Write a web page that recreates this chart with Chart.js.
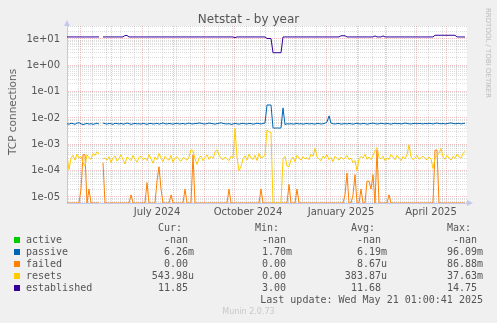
<!DOCTYPE html>
<html lang="en">
<head>
  <meta charset="UTF-8" />
  <title>Netstat - by year</title>
  <script src="https://cdn.jsdelivr.net/npm/chart.js"></script>
  <style>
    body { margin: 0; background: #f0f0f0; }
    #wrap { position: relative; width: 497px; height: 323px; overflow: hidden; font-family: "DejaVu Sans", sans-serif; color: #555; }
    #wrap canvas { position: absolute; left: 0; top: 0; }
    .title { position: absolute; left: 0; top: 12px; width: 497px; text-align: center; font-size: 12px; line-height: 14px; }
    .ytitle { position: absolute; left: 12px; top: 112px; transform: translate(-50%, -50%) rotate(-90deg); font-size: 10.5px; color: #606060; white-space: nowrap; }
    .side { position: absolute; left: 488px; top: 53px; transform: translate(-50%, -50%) rotate(90deg); font-size: 7px; color: #bbb; white-space: nowrap; }
    .munin { position: absolute; left: 0; top: 307px; width: 497px; text-align: center; font-size: 8px; line-height: 10px; color: #c8c8c8; }
    #legend div { position: absolute; font-family: "DejaVu Sans Mono", monospace; font-size: 10px; line-height: 12px; white-space: pre; }
    #legend .sw { width: 6px; height: 6px; }
  </style>
</head>
<body>
  <div id="wrap">
    <canvas id="netstatChart" width="497" height="323"></canvas>
    <div class="title">Netstat - by year</div>
    <div class="ytitle">TCP connections</div>
    <div class="side">RRDTOOL / TOBI OETIKER</div>
    <div class="munin">Munin 2.0.73</div>
    <div id="legend"></div>
  </div>

  <script>
    // one point every 2 days, day 0 = left edge of the graph
    const STEP = 2;

    const established = [
      11.9,11.9,11.9,11.9,11.9,11.9,11.9,11.9,11.9,11.9, 11.9,11.9,11.9,11.9,11.9,11.9,11.9,null,11.9,11.9,
      11.9,11.9,11.9,11.9,11.9,11.9,11.9,11.9,11.9,13.5, 13.5,11.9,11.9,11.9,11.9,11.9,11.9,11.9,11.9,11.9,
      11.9,11.9,11.9,11.9,11.9,11.9,11.9,11.9,11.9,11.9, 11.9,11.9,11.9,11.9,11.9,11.9,11.9,11.9,11.9,11.9,
      11.9,11.9,11.9,11.9,11.9,11.9,11.9,11.9,11.9,11.9, 11.9,11.9,11.9,11.9,11.9,11.9,11.9,11.9,11.9,11.9,
      11.9,11.9,11.9,11.9,11.2,11.9,11.9,11.9,11.9,11.9, 11.9,11.9,11.9,11.9,11.9,11.9,11.9,11.9,11.9,11.9,
      10.4,10.4,10.4,3.0,3.0,3.0,3.0,3.0,11.9,11.9, 11.9,11.9,11.9,11.9,11.9,11.9,11.9,11.9,11.9,11.9,
      11.9,11.9,11.9,11.9,11.9,11.9,11.9,11.9,11.9,11.9, 11.9,11.9,11.9,11.9,11.9,11.9,11.9,13.2,13.2,13.2,
      11.9,11.9,11.9,11.9,11.9,11.9,11.9,11.9,11.9,11.9, 11.9,11.9,11.9,11.9,13.0,11.9,11.9,11.9,13.0,11.9,
      11.9,11.9,11.9,11.9,11.9,11.9,11.9,11.9,11.9,11.9, 11.9,11.9,11.9,11.9,11.9,11.9,11.9,11.9,11.9,11.9,
      11.9,11.9,11.9,11.9,13.8,13.8,13.8,13.8,13.8,13.8, 13.8,13.8,13.8,13.8,13.8,11.9,11.9,11.9,11.85,11.85
    ];

    // passive, in milli
    const passiveMilli = [
      6.0,5.8,6.3,6.1,5.7,6.4,6.6,6.0,5.6,5.9, 6.2,5.8,6.1,5.7,6.0,6.3,5.9,null,6.4,6.1,
      5.8,6.2,6.0,5.7,6.3,6.1,5.9,6.2,5.8,6.0, 6.4,6.1,5.7,6.0,6.2,5.9,6.1,5.8,6.3,6.0,
      5.7,6.1,6.2,5.9,6.0,6.3,5.8,6.1,6.5,6.0, 5.9,6.2,6.0,5.8,6.1,6.3,5.9,6.0,6.2,5.8,
      6.1,6.4,6.0,5.9,6.2,6.1,6.5,6.3,6.0,5.9, 6.1,6.4,6.2,6.0,5.8,6.1,6.3,6.6,6.2,6.0,
      5.9,6.1,5.7,5.9,6.2,6.0,5.8,6.1,6.3,6.0, 5.9,6.2,6.1,5.8,6.0,6.3,6.1,5.9,6.2,6.4,
      31,31,31,4.2,4.1,4.2,4.1,4.2,24,5.6, 6.0,5.9,6.1,5.8,6.0,6.2,5.9,6.1,5.8,6.0,
      6.2,5.9,6.1,6.0,5.8,6.2,6.1,5.9,6.0,6.3, 7.0,12,6.4,6.0,5.9,6.1,6.2,5.8,6.0,6.1,
      5.9,6.2,6.0,5.8,6.1,6.3,6.0,5.9,6.2,6.1, 5.8,6.0,6.2,6.4,6.1,5.9,6.0,6.3,6.1,5.9,
      6.2,6.0,5.8,6.1,6.3,6.0,6.2,5.9,6.1,6.4, 6.2,6.0,5.9,6.1,6.3,6.0,6.2,6.1,5.9,6.2,
      6.0,6.3,6.1,5.9,6.2,6.4,6.1,6.0,6.2,5.9, 6.1,6.3,6.5,6.2,6.0,6.1,6.3,5.9,6.2,6.26
    ];

    // resets, in micro
    const resetsMicro = [
      350,110,300,380,250,420,300,340,200,150, 400,310,270,450,380,520,430,null,280,300,
      250,340,200,310,360,230,290,400,260,180, 330,290,240,380,270,210,320,350,260,300,
      240,410,280,190,330,260,450,300,220,350, 280,250,380,210,300,340,260,230,310,290,
      250,330,620,560,280,170,300,360,240,310, 400,270,350,290,500,620,380,300,260,330,
      280,240,350,300,4000,320,100,140,280,360, 250,420,300,270,380,240,450,300,330,380,
      3500,3000,2800,0,0,0,0,0,280,350, 150,140,260,330,220,380,300,250,340,280,
      310,260,420,350,700,330,280,240,360,300, 400,260,310,220,350,290,250,330,270,300,
      380,260,300,200,240,100,280,350,300,420, 270,330,260,380,560,750,310,280,350,240,
      300,270,410,330,260,380,300,240,350,280, 400,950,330,260,300,380,270,310,350,290,
      260,330,280,120,300,380,450,700,330,270, 380,300,250,350,290,420,330,300,450,544
    ];

    // failed, in micro
    const failedMicro = [
      0,0,0,0,0,0,0,20,400,400, 0,20,0,0,0,0,0,null,200,0,
      0,0,0,0,0,0,0,0,0,0, 0,0,12,0,0,0,0,0,0,0,
      35,0,0,0,0,40,140,20,0,0, 0,0,12,0,0,0,0,0,0,20,
      0,0,0,400,0,0,0,0,0,0, 0,0,0,0,0,0,0,0,0,0,
      0,20,0,0,0,0,0,0,0,0, 0,0,0,0,0,0,0,20,0,0,
      0,0,0,0,0,0,0,0,0,0, 0,30,0,0,0,20,0,0,0,0,
      0,0,0,0,0,0,0,0,0,0, 0,0,0,0,0,0,0,0,0,12,
      80,0,0,12,70,0,0,20,0,0, 40,40,20,70,0,600,0,0,0,0,
      0,12,0,0,0,0,0,0,0,0, 0,0,0,0,0,0,0,0,0,0,
      0,0,0,0,600,600,0,0,0,0, 0,0,0,0,0,0,0,0,0,0
    ];

    // axes
    const Y_MIN = 5.9e-6, Y_MAX = 31;
    const yMajor = [1e-5, 1e-4, 1e-3, 1e-2, 1e-1, 1, 10];
    const yTickLabels = ['1e-05', '1e-04', '1e-03', '1e-02', '1e-01', '1e+00', '1e+01'];
    const yMinorSteps = [2, 3, 4, 5, 6, 7, 8, 9];
    const yBelowFloor = [6e-6, 7e-6, 8e-6, 9e-6];
    const monthStarts = [13, 44, 75, 106, 137, 167, 198, 228, 259, 290, 318, 349, 379];
    const minorDays = [11, 25, 39, 53, 67, 81, 95, 109, 123, 151, 165, 179, 193, 207, 221, 235, 249, 263, 277, 291, 305, 319, 333, 347, 361, 375, 389];
    const labelDays = [90, 181, 274, 364];
    const monthLabels = ['July 2024', 'October 2024', 'January 2025', 'April 2025'];

    // legend table
    const legendNames = ['active', 'passive', 'failed', 'resets', 'established'];
    const legendColors = ['#00cc00', '#0066b3', '#ff8000', '#ffcc00', '#330099'];
    const curVals = ['-nan ', '6.26m', '0.00 ', '543.98u', '11.85 '];
    const minVals = ['-nan ', '1.70m', '0.00 ', '0.00 ', '3.00 '];
    const avgVals = ['-nan ', '6.19m', '8.67u', '383.87u', '11.68 '];
    const maxVals = ['-nan ', '96.09m', '86.88m', '37.63m', '14.75 '];
    const lastUpdate = 'Last update: Wed May 21 01:00:41 2025';

    const MAJOR_GRID = 'rgba(230, 120, 120, 0.45)';
    const MINOR_GRID = 'rgba(150, 150, 150, 0.32)';
    const AXIS = '#c4c8ee';

    const sameVal = (a, b) => Math.abs(Math.log10(a) - Math.log10(b)) < 1e-6;

    const yGrid = [...yBelowFloor];
    yMajor.forEach(m => {
      yGrid.push(m);
      yMinorSteps.forEach(s => yGrid.push(m * s));
    });
    const yTicks = yGrid.filter(v => v >= Y_MIN && v <= Y_MAX).sort((a, b) => a - b);

    const xTicks = [...monthStarts, ...minorDays, ...labelDays].sort((a, b) => a - b);

    function points(vals, unit) {
      // zero can't sit on a log axis, so it is drawn on the floor like rrdtool does
      return vals.map((v, i) => ({ x: i * STEP, y: v === null ? null : Math.max(v * unit, Y_MIN) }));
    }

    const plotBg = {
      id: 'plotBg',
      beforeDraw(chart) {
        const a = chart.chartArea, c = chart.ctx;
        c.save();
        c.fillStyle = '#ffffff';
        c.fillRect(a.left, a.top, a.right - a.left, a.bottom - a.top);
        c.restore();
      },
      afterDraw(chart) {
        // axis arrows
        const a = chart.chartArea, c = chart.ctx;
        c.save();
        c.fillStyle = AXIS;
        c.beginPath();
        c.moveTo(a.left - 3, a.top); c.lineTo(a.left + 3, a.top); c.lineTo(a.left, a.top - 6);
        c.fill();
        c.beginPath();
        c.moveTo(a.right, a.bottom - 3); c.lineTo(a.right, a.bottom + 3); c.lineTo(a.right + 6, a.bottom);
        c.fill();
        c.restore();
      }
    };

    new Chart(document.getElementById('netstatChart'), {
      type: 'line',
      data: {
        datasets: [
          { label: 'established', data: points(established, 1), borderColor: '#330099' },
          { label: 'resets', data: points(resetsMicro, 1e-6), borderColor: '#ffcc00' },
          { label: 'failed', data: points(failedMicro, 1e-6), borderColor: '#ff8000' },
          { label: 'passive', data: points(passiveMilli, 1e-3), borderColor: '#0066b3' }
        ]
      },
      options: {
        responsive: false,
        animation: false,
        layout: { padding: { left: 0, right: 30, top: 26, bottom: 103 } },
        elements: {
          point: { radius: 0 },
          line: { borderWidth: 1, tension: 0 }
        },
        plugins: {
          legend: { display: false },
          tooltip: { enabled: false }
        },
        scales: {
          x: {
            type: 'linear',
            min: 0,
            max: 400,
            afterFit: s => { s.height = 17; },
            afterBuildTicks: s => { s.ticks = xTicks.map(v => ({ value: v })); },
            grid: {
              drawTicks: false,
              color: c => monthStarts.includes(c.tick.value) ? MAJOR_GRID
                : minorDays.includes(c.tick.value) ? MINOR_GRID : 'rgba(0,0,0,0)'
            },
            border: { color: AXIS, dash: [1, 1] },
            ticks: {
              autoSkip: false,
              maxRotation: 0,
              padding: 3,
              color: '#555',
              font: { family: 'DejaVu Sans', size: 10 },
              callback: v => {
                const i = labelDays.indexOf(v);
                return i >= 0 ? monthLabels[i] : '';
              }
            }
          },
          y: {
            type: 'logarithmic',
            min: Y_MIN,
            max: Y_MAX,
            afterFit: s => { s.width = 67; },
            afterBuildTicks: s => { s.ticks = yTicks.map(v => ({ value: v })); },
            grid: {
              drawTicks: false,
              color: c => yMajor.some(m => sameVal(m, c.tick.value)) ? MAJOR_GRID : MINOR_GRID
            },
            border: { color: AXIS, dash: [1, 1] },
            ticks: {
              autoSkip: false,
              padding: 7,
              color: '#555',
              font: { family: 'DejaVu Sans', size: 10 },
              callback: v => {
                const i = yMajor.findIndex(m => sameVal(m, v));
                return i >= 0 ? yTickLabels[i] : '';
              }
            }
          }
        }
      },
      plugins: [plotBg]
    });

    // legend below the graph
    const legend = document.getElementById('legend');
    function cell(text, css) {
      const d = document.createElement('div');
      d.textContent = text;
      Object.assign(d.style, css);
      legend.appendChild(d);
      return d;
    }
    const top0 = 222, rowH = 12;
    cell('Cur:', { left: '158px', top: top0 + 'px' });
    cell('Min:', { left: '255px', top: top0 + 'px' });
    cell('Avg:', { left: '351px', top: top0 + 'px' });
    cell('Max:', { left: '447px', top: top0 + 'px' });
    legendNames.forEach((name, i) => {
      const t = top0 + rowH * (i + 1);
      const sw = cell('', { left: '14px', top: (t + 3) + 'px', background: legendColors[i] });
      sw.className = 'sw';
      cell(name, { left: '26px', top: t + 'px' });
      cell(curVals[i], { right: '303px', top: t + 'px', textAlign: 'right' });
      cell(minVals[i], { right: '205px', top: t + 'px', textAlign: 'right' });
      cell(avgVals[i], { right: '110px', top: t + 'px', textAlign: 'right' });
      cell(maxVals[i], { right: '14px', top: t + 'px', textAlign: 'right' });
    });
    cell(lastUpdate, { right: '14px', top: (top0 + rowH * 6) + 'px', textAlign: 'right' });
  </script>
</body>
</html>
